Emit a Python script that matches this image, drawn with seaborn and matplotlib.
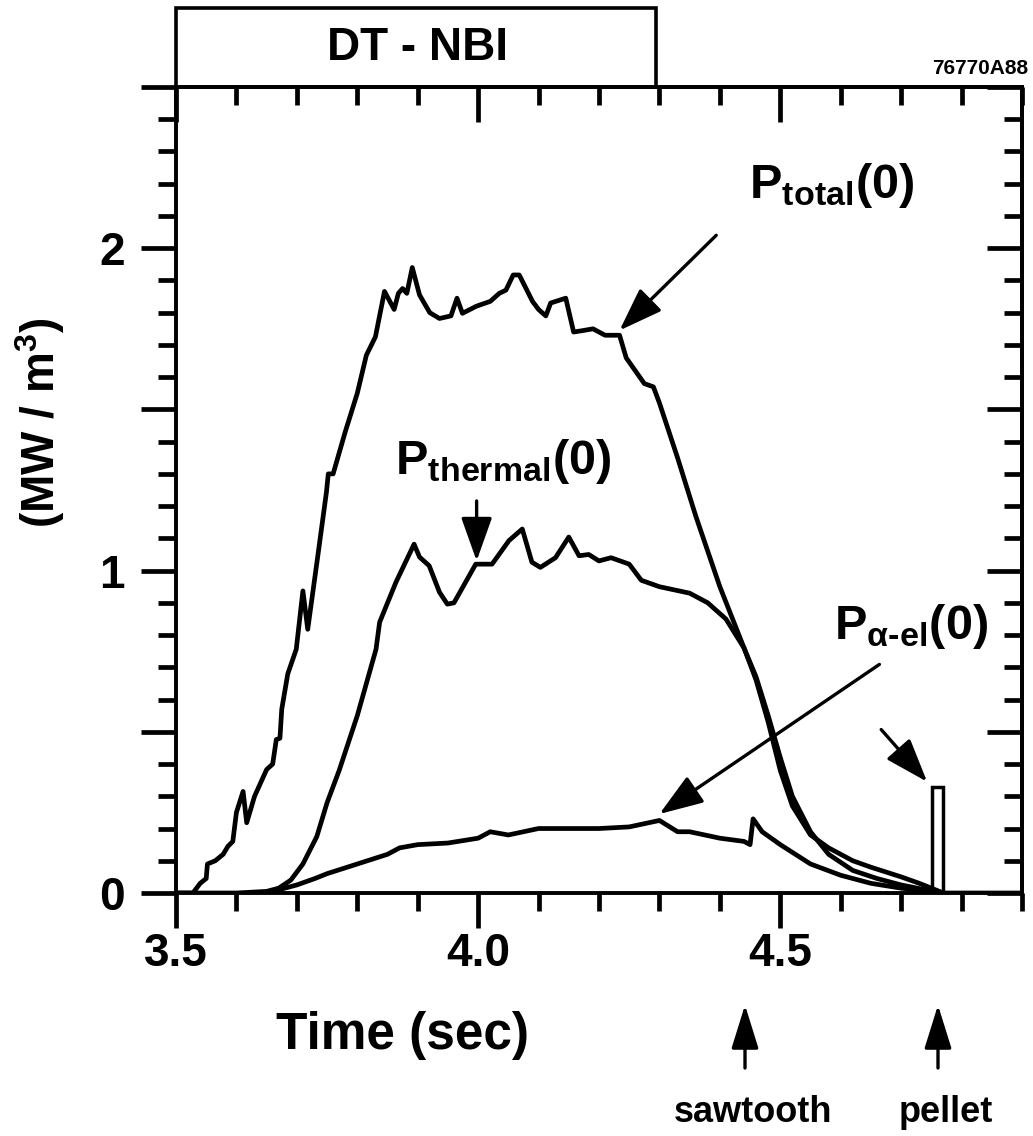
import numpy as np
import pandas as pd
import matplotlib
matplotlib.use('Agg')
import matplotlib.pyplot as plt
import seaborn as sns
from matplotlib.ticker import MultipleLocator, FuncFormatter
from matplotlib.patches import Rectangle, FancyArrowPatch

# ---------------- data ----------------
t_total = [3.50, 3.528, 3.54, 3.55, 3.552, 3.565, 3.578, 3.586, 3.594, 3.60, 3.611, 3.617,
           3.63, 3.65, 3.66, 3.666, 3.672, 3.675, 3.685, 3.699, 3.71, 3.718, 3.735, 3.749,
           3.752, 3.76, 3.78, 3.80, 3.815, 3.83, 3.845, 3.861, 3.868, 3.875, 3.882, 3.891,
           3.903, 3.92, 3.936, 3.955, 3.965, 3.974, 3.997, 4.02, 4.035, 4.046, 4.058, 4.068,
           4.09, 4.10, 4.112, 4.12, 4.145, 4.158, 4.175, 4.19, 4.21, 4.234, 4.245, 4.26,
           4.275, 4.29, 4.30, 4.33, 4.36, 4.40, 4.44, 4.46, 4.48, 4.50, 4.52, 4.55, 4.58,
           4.60, 4.62, 4.65, 4.70, 4.73, 4.75, 4.77, 4.90]
p_total = [0.0, 0.0, 0.03, 0.045, 0.09, 0.10, 0.12, 0.145, 0.16, 0.25, 0.315, 0.218,
           0.30, 0.383, 0.40, 0.476, 0.48, 0.57, 0.68, 0.756, 0.937, 0.818, 1.05, 1.244,
           1.30, 1.30, 1.43, 1.55, 1.668, 1.725, 1.866, 1.81, 1.86, 1.875, 1.86, 1.94,
           1.855, 1.80, 1.782, 1.79, 1.845, 1.798, 1.82, 1.835, 1.86, 1.87, 1.917, 1.917,
           1.835, 1.81, 1.79, 1.83, 1.845, 1.74, 1.745, 1.75, 1.73, 1.73, 1.66, 1.62,
           1.58, 1.57, 1.52, 1.35, 1.17, 0.95, 0.76, 0.66, 0.53, 0.38, 0.27, 0.18, 0.14,
           0.12, 0.10, 0.08, 0.05, 0.03, 0.015, 0.0, 0.0]

t_thermal = [3.50, 3.60, 3.65, 3.67, 3.69, 3.71, 3.733, 3.75, 3.77, 3.80, 3.831, 3.837,
             3.864, 3.894, 3.903, 3.919, 3.936, 3.949, 3.96, 3.996, 4.023, 4.051, 4.073,
             4.089, 4.103, 4.128, 4.15, 4.167, 4.183, 4.20, 4.22, 4.25, 4.27, 4.30, 4.35,
             4.38, 4.41, 4.44, 4.46, 4.48, 4.50, 4.52, 4.55, 4.58, 4.62, 4.66, 4.70, 4.74,
             4.76]
p_thermal = [0.0, 0.0, 0.005, 0.015, 0.04, 0.09, 0.175, 0.28, 0.38, 0.55, 0.756, 0.84,
             0.964, 1.082, 1.042, 1.015, 0.933, 0.896, 0.90, 1.02, 1.02, 1.093, 1.129,
             1.026, 1.01, 1.04, 1.104, 1.046, 1.05, 1.03, 1.04, 1.02, 0.97, 0.95, 0.93,
             0.90, 0.85, 0.76, 0.67, 0.55, 0.42, 0.30, 0.19, 0.12, 0.07, 0.045, 0.025,
             0.01, 0.0]

t_alpha = [3.65, 3.68, 3.70, 3.73, 3.75, 3.80, 3.85, 3.87, 3.90, 3.95, 4.00, 4.02, 4.05,
           4.10, 4.15, 4.20, 4.25, 4.30, 4.33, 4.35, 4.40, 4.44, 4.45, 4.455, 4.47, 4.50,
           4.55, 4.60, 4.65, 4.70, 4.75]
p_alpha = [0.0, 0.015, 0.025, 0.045, 0.06, 0.09, 0.12, 0.14, 0.15, 0.155, 0.17, 0.19, 0.18,
           0.20, 0.20, 0.20, 0.205, 0.225, 0.19, 0.19, 0.17, 0.16, 0.15, 0.23, 0.19, 0.15,
           0.09, 0.055, 0.03, 0.015, 0.005]

pellet_t = [4.76]
pellet_h = [0.33]

x_ticklabels = ['3.5', '4.0', '4.5']
y_ticklabels = ['0', '1', '2']

# ---------------- style ----------------
sns.set_theme(style='white')
plt.rcParams['font.family'] = ['Liberation Sans', 'DejaVu Sans']
plt.rcParams['font.weight'] = 'bold'
plt.rcParams['text.color'] = 'black'
plt.rcParams['axes.labelcolor'] = 'black'
plt.rcParams['xtick.color'] = 'black'
plt.rcParams['ytick.color'] = 'black'
plt.rcParams['mathtext.fontset'] = 'custom'
plt.rcParams['mathtext.rm'] = 'Liberation Sans:bold'
plt.rcParams['mathtext.it'] = 'Liberation Sans:bold'
plt.rcParams['mathtext.bf'] = 'Liberation Sans:bold'
plt.rcParams['mathtext.sf'] = 'Liberation Sans:bold'
plt.rcParams['mathtext.default'] = 'rm'

W, H = 1033, 1136
fig = plt.figure(figsize=(W / 100, H / 100), dpi=100)
ax_l, ax_r, ax_t, ax_b = 176, 1022, 87, 893
ax = fig.add_axes([ax_l / W, 1 - ax_b / H, (ax_r - ax_l) / W, (ax_b - ax_t) / H])
ax.set_facecolor('white')

df = pd.concat([
    pd.DataFrame({'t': t_total, 'p': p_total, 's': 'total'}),
    pd.DataFrame({'t': t_thermal, 'p': p_thermal, 's': 'thermal'}),
    pd.DataFrame({'t': t_alpha, 'p': p_alpha, 's': 'alpha'}),
], ignore_index=True)
sns.lineplot(data=df, x='t', y='p', units='s', estimator=None, sort=False,
             color='black', linewidth=3.4, ax=ax, legend=False)

ax.bar(pellet_t, pellet_h, width=0.018, fill=False, edgecolor='black', linewidth=2.5,
       align='center')

ax.set_xlim(3.5, 4.9)
ax.set_ylim(0, 2.5)
ax.set_xlabel('')
ax.set_ylabel('')

for s in ax.spines.values():
    s.set_visible(True)
    s.set_color('black')
    s.set_linewidth(2.8)

ax.xaxis.set_major_locator(MultipleLocator(0.5))
ax.xaxis.set_minor_locator(MultipleLocator(0.1))
ax.yaxis.set_major_locator(MultipleLocator(0.5))
ax.yaxis.set_minor_locator(MultipleLocator(0.1))

xmap = {3.5: x_ticklabels[0], 4.0: x_ticklabels[1], 4.5: x_ticklabels[2]}
ymap = {0.0: y_ticklabels[0], 1.0: y_ticklabels[1], 2.0: y_ticklabels[2]}
ax.xaxis.set_major_formatter(FuncFormatter(lambda v, p: xmap.get(round(v, 2), '')))
ax.yaxis.set_major_formatter(FuncFormatter(lambda v, p: ymap.get(round(v, 2), '')))

ax.tick_params(axis='both', which='major', direction='out', length=25, width=3.4,
               color='black', labelsize=33, labelcolor='black',
               top=False, right=False, bottom=True, left=True)
ax.tick_params(axis='both', which='minor', direction='out', length=13, width=3.4,
               color='black', top=False, right=False, bottom=True, left=True)
ax.tick_params(axis='y', which='major', pad=12)
ax.tick_params(axis='x', which='major', pad=3)
for lab in ax.get_xticklabels() + ax.get_yticklabels():
    lab.set_fontweight('bold')

secx = ax.secondary_xaxis('top')
secx.xaxis.set_major_locator(MultipleLocator(0.5))
secx.xaxis.set_minor_locator(MultipleLocator(0.1))
secx.tick_params(which='major', direction='in', length=25, width=3.4, labeltop=False,
                 color='black')
secx.tick_params(which='minor', direction='in', length=13, width=3.4, color='black')
secx.spines['top'].set_linewidth(2.8)
secx.spines['top'].set_color('black')
secy = ax.secondary_yaxis('right')
secy.yaxis.set_major_locator(MultipleLocator(0.5))
secy.yaxis.set_minor_locator(MultipleLocator(0.1))
secy.tick_params(which='major', direction='in', length=25, width=3.4, labelright=False,
                 color='black')
secy.tick_params(which='minor', direction='in', length=13, width=3.4, color='black')
secy.spines['right'].set_linewidth(2.8)
secy.spines['right'].set_color('black')

# DT - NBI box above the axes
box = Rectangle((3.5, 1.0), 0.795, 0.098, transform=ax.get_xaxis_transform(),
                fill=False, edgecolor='black', linewidth=2.6, clip_on=False)
ax.add_patch(box)
ax.text(3.9, 1.049, 'DT - NBI', transform=ax.get_xaxis_transform(), ha='center',
        va='center', fontsize=33, fontweight='bold', color='black')

fig.text(1028 / W, 1 - 74 / H, '76770A88', ha='right', va='baseline', fontsize=15,
         fontweight='bold', color='black')

# labels
arrow_kw = dict(arrowstyle='-|>,head_length=0.9,head_width=0.32', color='black', lw=2.4,
                shrinkA=0, shrinkB=0, mutation_scale=30)
ax.text(4.449, 2.155, r'P$_{total}$(0)', ha='left', va='baseline', fontsize=35,
        color='black')
ax.annotate('', xy=(4.234, 1.745), xytext=(4.394, 2.04), arrowprops=arrow_kw)

ax.text(3.862, 1.30, r'P$_{thermal}$(0)', ha='left', va='baseline', fontsize=35,
        color='black')
ax.annotate('', xy=(3.9975, 1.03), xytext=(3.9975, 1.216), arrowprops=arrow_kw)

ax.text(4.589, 0.787, r'P$_{\alpha\text{-}el}$(0)', ha='left', va='baseline', fontsize=35,
        color='black')
ax.annotate('', xy=(4.30, 0.245), xytext=(4.664, 0.709), arrowprops=arrow_kw)

ax.annotate('', xy=(4.743, 0.345), xytext=(4.667, 0.507), arrowprops=arrow_kw)

# axis labels
fig.text(40 / W, 1 - 423 / H, r'(MW / m$^3$)', rotation=90, ha='center', va='center',
         fontsize=33, fontweight='bold', color='black')
fig.text(403 / W, 1 - 1035 / H, 'Time (sec)', ha='center', va='center', fontsize=37,
         fontweight='bold', color='black')

# event markers below the axis
for xpix, lab in [(745, 'sawtooth'), (938, 'pellet')]:
    fig.add_artist(FancyArrowPatch(
        (xpix / W, 1 - 1068 / H), (xpix / W, 1 - 1005 / H), transform=fig.transFigure,
        arrowstyle='-|>,head_length=0.9,head_width=0.28', mutation_scale=30,
        color='black', lw=2.4, shrinkA=0, shrinkB=0))
    fig.text((xpix + 8) / W, 1 - 1113 / H, lab, ha='center', va='center', fontsize=26,
             fontweight='bold', color='black')

fig.savefig('out.png', dpi=100, facecolor='white')
